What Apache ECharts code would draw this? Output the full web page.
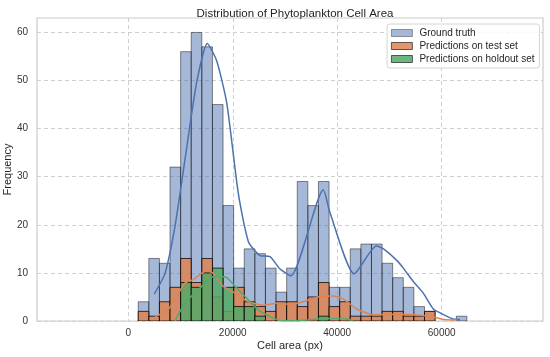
<!DOCTYPE html>
<html>
<head>
<meta charset="utf-8">
<script src="https://cdn.jsdelivr.net/npm/echarts@6/dist/echarts.min.js"></script>
<style>
  html, body { margin: 0; padding: 0; background: #ffffff; }
  #chart { width: 550px; height: 357px; }
</style>
</head>
<body>
<div id="chart"></div>
<script>
// ---------------- data ----------------
const chartTitle = 'Distribution of Phytoplankton Cell Area';
const xTitle = 'Cell area (px)';
const yTitle = 'Frequency';
const seriesNames = ['Ground truth', 'Predictions on test set', 'Predictions on holdout set'];

// histogram bins (31 bins)
const binStart = 1900;
const binWidth = 2030;

const groundTruthCounts = [4, 13, 12, 32, 56, 60, 57, 45, 24, 11, 15, 14, 11, 6, 11, 29, 24, 29, 7, 7, 15, 16, 16, 12, 9, 7, 3, 2, 0, 0, 1];
const testSetCounts     = [2, 1, 4, 7, 13, 8, 13, 5, 2, 7, 4, 3, 2, 4, 4, 3, 5, 8, 3, 4, 1, 1, 1, 2, 2, 1, 1, 2, 0, 0, 0];
const holdoutSetCounts  = [0, 0, 0, 0, 8, 7, 10, 11, 7, 3, 3, 1, 0, 0, 0, 0, 0, 1, 0, 0, 0, 0, 0, 0, 0, 0, 0, 0, 0, 0, 0];

// KDE curves (x, density scaled to counts)
const groundTruthKde = [[4980, 5.6], [7030, 9.9], [8940, 19.7], [10860, 33.6], [13090, 49.6], [15130, 57.7], [16920, 54.1], [18840, 45.4], [21060, 26.6], [23000, 16.5], [25220, 13.6], [27130, 13.4], [29050, 10.8], [31150, 9.4], [37340, 27.3], [38620, 22.5], [43250, 9.8], [47500, 15.6], [49000, 14.9], [51400, 12.6], [52650, 11.0], [54570, 8.2], [56480, 5.8], [58400, 2.5], [59680, 1.7], [62230, 0.4], [63500, 0.3]];
const testSetKde = [[5110, 0.9], [7660, 2.4], [10860, 7.9], [12450, 8.6], [15010, 10.5], [16270, 9.9], [18190, 7.2], [20430, 5.8], [22340, 4.4], [23930, 3.7], [25850, 3.3], [28410, 3.7], [30960, 3.5], [33510, 4.0], [36700, 5.1], [39200, 5.2], [41160, 4.6], [43730, 2.5], [47000, 1.3], [51390, 1.4], [55220, 1.25], [58500, 0.8], [60500, 0.3], [62870, 0.2]];
const holdoutSetKde = [[8940, 0], [10860, 3.7], [14050, 7.2], [16270, 9.2], [18510, 9.2], [20430, 7.2], [22980, 4.4], [25000, 2.2], [27130, 0.9], [29050, 0.1], [32000, 0.05], [35000, 0.3], [37500, 0.5], [41000, 0.5], [43000, 0.1]];

const xTicks = [0, 20000, 40000, 60000];
const yTicks = [0, 10, 20, 30, 40, 50, 60];
const xRange = [-17480, 79400];
const yRange = [0, 63];

// ---------------- styles ----------------
const FONT = '"Liberation Sans", Arial, sans-serif';
const palette = {
  blue:   { fill: 'rgba(76,114,176,0.5)',  stroke: 'rgba(0,0,0,0.45)', line: '#4c72b0' },
  orange: { fill: 'rgba(221,132,82,0.85)', stroke: 'rgba(0,0,0,0.75)', line: '#dd8452' },
  green:  { fill: 'rgba(85,168,104,0.85)', stroke: 'rgba(0,0,0,0.75)', line: '#55a868' }
};

function toBins(counts) {
  return counts.map((c, i) => [binStart + i * binWidth, binStart + (i + 1) * binWidth, c]);
}

function renderBar(params, api) {
  const c = api.value(2);
  if (!c) return null;
  const p0 = api.coord([api.value(0), c]);
  const p1 = api.coord([api.value(1), 0]);
  const st = api.style();
  return {
    type: 'rect',
    shape: { x: p0[0], y: p0[1], width: p1[0] - p0[0], height: p1[1] - p0[1] },
    style: { fill: st.fill, stroke: st.stroke, lineWidth: 1 }
  };
}

function histSeries(name, counts, pal, z) {
  return {
    name: name,
    type: 'custom',
    renderItem: renderBar,
    clip: true,
    z: z,
    encode: { x: [0, 1], y: 2 },
    itemStyle: { color: pal.fill, borderColor: pal.stroke, borderWidth: 1 },
    data: toBins(counts)
  };
}

function kdeSeries(name, pts, pal) {
  return {
    name: name,
    type: 'line',
    data: pts,
    showSymbol: false,
    smooth: 0.2,
    z: 10,
    silent: true,
    lineStyle: { color: pal.line, width: 1.5 },
    itemStyle: { color: pal.line }
  };
}

const chart = echarts.init(document.getElementById('chart'), null, { renderer: 'canvas' });

chart.setOption({
  animation: false,
  backgroundColor: '#ffffff',
  textStyle: { fontFamily: FONT },
  title: {
    text: chartTitle,
    left: 290,
    textAlign: 'center',
    top: 3,
    textStyle: { fontFamily: FONT, fontSize: 11.5, fontWeight: 'normal', color: '#262626' }
  },
  legend: {
    data: seriesNames,
    orient: 'vertical',
    left: 387,
    top: 24,
    icon: 'rect',
    itemWidth: 21,
    itemHeight: 7,
    itemGap: 3,
    padding: [4, 5, 4, 4],
    backgroundColor: 'rgba(255,255,255,0.85)',
    borderColor: '#d4d4d4',
    borderWidth: 1,
    borderRadius: 3,
    itemStyle: { borderWidth: 0.8 },
    textStyle: { fontFamily: FONT, fontSize: 10, color: '#262626', padding: [0, 0, 0, 2] }
  },
  grid: {
    left: 37, top: 18, right: 7, bottom: 36,
    outerBoundsMode: 'none',
    containLabel: false,
    show: true,
    borderColor: '#cccccc',
    borderWidth: 1.2,
    backgroundColor: '#ffffff'
  },
  xAxis: {
    type: 'value',
    min: xRange[0],
    max: xRange[1],
    name: xTitle,
    nameLocation: 'middle',
    nameGap: 19,
    nameMoveOverlap: false,
    nameTextStyle: { fontFamily: FONT, fontSize: 11, color: '#262626', verticalAlign: 'top' },
    axisLine: { show: false },
    axisTick: { show: false, customValues: xTicks },
    axisLabel: { customValues: xTicks, margin: 7, fontFamily: FONT, fontSize: 10, color: '#333333', formatter: v => String(v) },
    splitLine: { show: true, lineStyle: { color: '#cfcfcf', type: [4, 3], width: 1 } }
  },
  yAxis: {
    type: 'value',
    min: yRange[0],
    max: yRange[1],
    name: yTitle,
    nameLocation: 'middle',
    nameGap: 24,
    nameMoveOverlap: false,
    nameTextStyle: { fontFamily: FONT, fontSize: 11, color: '#262626' },
    axisLine: { show: false },
    axisTick: { show: false, customValues: yTicks },
    axisLabel: { customValues: yTicks, margin: 9, fontFamily: FONT, fontSize: 10, color: '#333333' },
    splitLine: { show: true, lineStyle: { color: '#cfcfcf', type: [4, 3], width: 1 } }
  },
  series: [
    histSeries(seriesNames[0], groundTruthCounts, palette.blue, 2),
    histSeries(seriesNames[1], testSetCounts, palette.orange, 3),
    histSeries(seriesNames[2], holdoutSetCounts, palette.green, 4),
    kdeSeries('Ground truth KDE', groundTruthKde, palette.blue),
    kdeSeries('Test set KDE', testSetKde, palette.orange),
    kdeSeries('Holdout set KDE', holdoutSetKde, palette.green)
  ]
});
</script>
</body>
</html>
